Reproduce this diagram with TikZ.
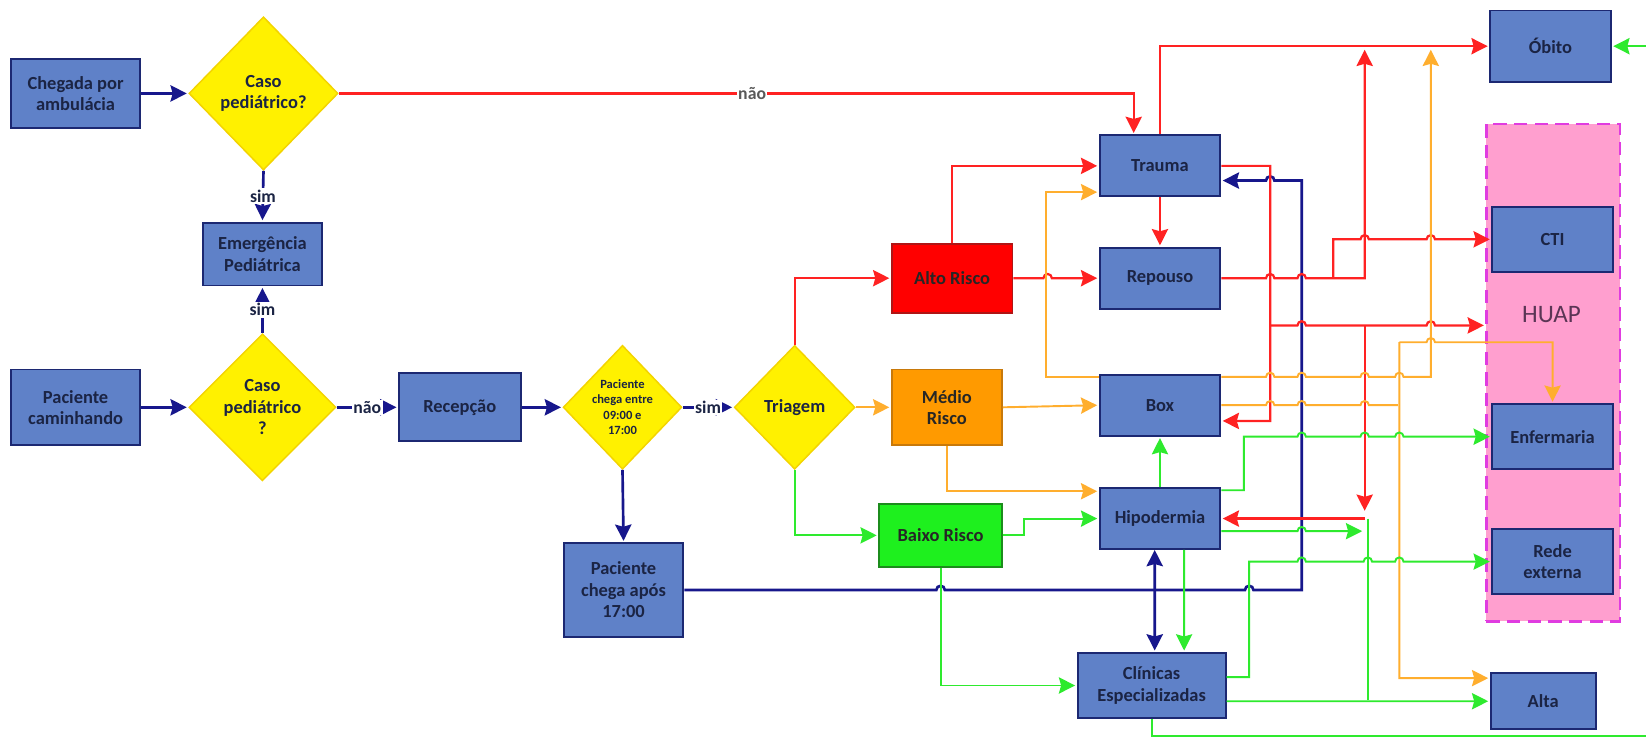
\documentclass[tikz,border=0pt]{standalone}
\usepackage{fontspec}
\setmainfont{Carlito}
\usepackage{tikz}
\usetikzlibrary{shapes.geometric,arrows.meta}

\definecolor{boxblue}{HTML}{5F81C8}
\definecolor{boxedge}{HTML}{1C2872}
\definecolor{txtblue}{HTML}{1B2444}
\definecolor{diayellow}{HTML}{FFF100}
\definecolor{diaedge}{HTML}{F3D400}
\definecolor{navyline}{HTML}{17178C}
\definecolor{redline}{HTML}{FF2222}
\definecolor{orangeline}{HTML}{FFAE2E}
\definecolor{greenline}{HTML}{2EEA2E}
\definecolor{huapfill}{HTML}{FF9FCF}
\definecolor{huapedge}{HTML}{E03CE0}
\definecolor{huaptext}{HTML}{5B3555}
\definecolor{altoedge}{HTML}{B01515}
\definecolor{medioedge}{HTML}{C8790A}
\definecolor{baixoedge}{HTML}{1C8C1C}

\def\px{0.025cm}
% small bump where a line jumps over another one
\def\hop#1#2{-- (#1-4,#2) arc[start angle=180,end angle=0,radius=0.1cm]}
\def\hopback#1#2{-- (#1+4,#2) arc[start angle=0,end angle=180,radius=0.1cm]}

\begin{document}
\begin{tikzpicture}[x=\px,y=-\px,shorten >=1pt,>={Stealth[length=11pt,width=11pt,inset=1.5pt]},
    wh/.style 2 args={minimum width=#1*\px,minimum height=#2*\px}]
    \tikzstyle{blk}=[rectangle,draw=boxedge,fill=boxblue,line width=1.3pt,inner sep=1pt,align=center,text=txtblue,font=\fontsize{12.5}{14.5}\selectfont\bfseries]
    \tikzstyle{risk}=[blk,text=black!85]
    \tikzstyle{dia}=[diamond,draw=diaedge,fill=diayellow,line width=1pt,inner sep=0pt]
    \tikzstyle{dtxt}=[align=center,text=txtblue,font=\fontsize{12.5}{14.5}\selectfont\bfseries]
    \tikzstyle{lbl}=[fill=white,inner sep=1pt,text=txtblue,font=\fontsize{12}{14}\selectfont\bfseries]
    \tikzstyle{nv}=[->,draw=navyline,line width=1.8pt]
    \tikzstyle{rd}=[->,draw=redline,line width=1.5pt]
    \tikzstyle{og}=[->,draw=orangeline,line width=1.3pt]
    \tikzstyle{gn}=[->,draw=greenline,line width=1.3pt]

    \fill[white] (0,0) rectangle (1568,704);
    \useasboundingbox (0,0) rectangle (1568,704);

    \node[draw=huapedge,fill=huapfill,line width=1.5pt,dash pattern=on 9pt off 5pt,wh={127}{474}] (huap) at (1479.5,355) {};
    \node[text=huaptext,font=\fontsize{17}{20}\selectfont] (huaplbl) at (1478,300) {HUAP};

    \node[blk,wh={123}{66}] (amb) at (72,89) {Chegada por\\ambulácia};
    \node[dia,wh={142}{146},label={[dtxt]center:{Caso\\pediátrico?}}] (d1) at (251,89) {};
    \node[blk,wh={114}{60}] (emerg) at (250,242) {Emergência\\Pediátrica};
    \node[dia,wh={140}{140},label={[dtxt]center:{Caso\\pediátrico\\?}}] (d2) at (250,388) {};
    \node[blk,wh={123}{72}] (walk) at (72,388) {Paciente\\caminhando};
    \node[blk,wh={116}{65}] (recep) at (438,388) {Recepção};
    \node[dia,wh={113}{118},label={[dtxt,font=\fontsize{8.5}{10.5}\selectfont\bfseries]center:{Paciente\\chega entre\\09:00 e\\17:00}}] (hours) at (593,388) {};
    \node[dia,wh={115}{118},label={[dtxt]center:Triagem}] (triag) at (757,388) {};
    \node[blk,wh={114}{89}] (late) at (594,562) {Paciente\\chega após\\17:00};

    \node[risk,wh={115}{66},fill=red,draw=altoedge] (alto) at (907,265) {Alto Risco};
    \node[risk,wh={105}{72},fill={rgb,255:red,255;green,154;blue,0},draw=medioedge] (medio) at (902,388) {Médio\\Risco};
    \node[risk,wh={117}{60},fill={rgb,255:red,30;green,240;blue,30},draw=baixoedge] (baixo) at (896,510) {Baixo Risco};

    \foreach \name/\y/\txt in {trauma/158/Trauma,repouso/265/Repouso,box/386/Box,hipo/494/Hipodermia}
        \node[blk,wh={115}{58}] (\name) at (1105,\y) {\txt};
    \node[blk,wh={141}{62}] (clin) at (1097,653) {Clínicas\\Especializadas};

    \node[blk,wh={115}{68}] (obito) at (1477,44) {Óbito};
    \foreach \name/\y/\txt in {cti/228/CTI,enf/416/Enfermaria,rede/535/{Rede\\externa}}
        \node[blk,wh={115}{62}] (\name) at (1479,\y) {\txt};
    \node[blk,wh={100}{53}] (alta) at (1470,668) {Alta};

    % entrada e triagem
    \draw[nv] (amb.east) -- (d1.west);
    \draw[nv] (d1.south) -- node[lbl]{sim} (emerg.north);
    \draw[nv] (d2.north) -- node[lbl]{sim} (emerg.south);
    \draw[nv] (walk.east) -- (d2.west);
    \draw[nv] (d2.east) -- node[lbl]{não} (recep.west);
    \draw[nv] (recep.east) -- (hours.west);
    \draw[nv] (hours.east) -- node[lbl]{sim} (triag.west);
    \draw[nv] (hours.south) -- (late.north);
    \draw[nv] (late.east) \hop{896}{562} \hop{1190}{562} -- (1240,562) -- (1240,172) \hopback{1210}{172} -- ([yshift=-0.35cm]trauma.east);
    \draw[nv,<->] ([xshift=-0.125cm]hipo.south) -- ([xshift=0.075cm]clin.north);

    % risco alto
    \draw[rd] (d1.east) -| node[lbl,pos=0.26,text=black!65]{não} ([xshift=-0.625cm]trauma.north);
    \draw[rd] (triag.north) |- (alto.west);
    \draw[rd] (alto.north) |- (trauma.west);
    \draw[rd] (alto.east) \hop{998}{265} -- (repouso.west);
    \draw[rd] (trauma.south) -- (repouso.north);
    \draw[rd] (trauma.north) |- (obito.west);
    \draw[rd] (trauma.east) -- (1210,158) -- (1210,401) -- ([yshift=-0.375cm]box.east);
    \draw[rd] (repouso.east) \hop{1210}{265} \hop{1240}{265} -- (1300,265) -- (1300,46);
    \draw[rd] (1270,265) -- (1270,228) \hop{1300}{228} \hop{1363}{228} -- (cti.west);
    \draw[rd] (1210,310) \hop{1240}{310} \hop{1363}{310} -- ([yshift=1.125cm]huap.west);
    \draw[rd] (1300,310) -- (1300,488);
    \draw[rd] (1300,494) -- (hipo.east);

    % risco medio
    \draw[og] (triag.east) -- (medio.west);
    \draw[og] (medio.east) -- (box.west);
    \draw[og] (medio.south) |- ([yshift=0.65cm]hipo.west);
    \draw[og] ([yshift=0.675cm]box.west) -- ++(-50,0) |- ([yshift=-0.625cm]trauma.west);
    \draw[og] ([yshift=0.675cm]box.east) \hop{1210}{359} \hop{1240}{359} \hop{1300}{359} \hop{1333}{359} -- (1363,359) -- (1363,46);
    \draw[og,-] (box.east) \hop{1210}{386} \hop{1240}{386} \hop{1300}{386} -- (1333,386);
    \draw[og] (1333,326) -- (1333,646) -- ([yshift=0.55cm]alta.west);
    \draw[og] (1333,326) \hop{1363}{326} -| (enf.north);

    % risco baixo
    \draw[gn] (triag.south) |- (baixo.west);
    \draw[gn] (baixo.east) -- ++(20,0) |- (hipo.west);
    \draw[gn] (baixo.south) |- (clin.west);
    \draw[gn] (hipo.north) -- (box.south);
    \draw[gn] ([yshift=0.675cm]hipo.east) -- (1185,467) -- (1185,416) \hop{1240}{416} \hop{1300}{416} \hop{1333}{416} -- (enf.west);
    \draw[gn] ([yshift=-0.3cm]hipo.east) \hop{1240}{506} -- (1299,506);
    \draw[gn,-] (1303,494) -- (1303,668);
    \draw[gn] ([xshift=0.575cm]hipo.south) -- ([xshift=0.775cm]clin.north);
    \draw[gn] ([yshift=0.2cm]clin.east) -- (1190,645) -- (1190,535) \hop{1240}{535} \hop{1303}{535} \hop{1333}{535} -- (rede.west);
    \draw[gn] ([yshift=-0.375cm]clin.east) -- (alta.west);
    \draw[gn] (clin.south) |- (1572,701) |- (obito.east);
\end{tikzpicture}
\end{document}
